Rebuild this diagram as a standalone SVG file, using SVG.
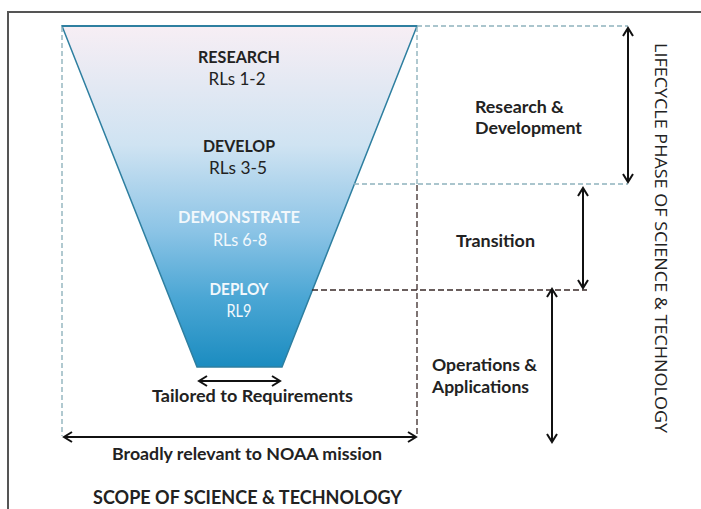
<svg xmlns="http://www.w3.org/2000/svg" width="701" height="509" viewBox="0 0 701 509">
<defs>
<linearGradient id="fun" x1="0" y1="0" x2="0" y2="1">
<stop offset="0" stop-color="#f7eef4"/>
<stop offset="0.35" stop-color="#cfe3f2"/>
<stop offset="0.6" stop-color="#8cc4e6"/>
<stop offset="0.8" stop-color="#4aa6d4"/>
<stop offset="1" stop-color="#1b8cc0"/>
</linearGradient>
<marker id="ah" markerWidth="12" markerHeight="12" refX="10" refY="6" orient="auto-start-reverse" markerUnits="userSpaceOnUse">
<path d="M2,1 L10,6 L2,11" fill="none" stroke="#111" stroke-width="2"/>
</marker>
</defs>
<style>
.t{font-family:Lato,"Liberation Sans",sans-serif;font-size:17px;fill:#222}
.b{font-weight:bold}
.c{text-anchor:middle}
.w{fill:#f2f8fc}
.dl{fill:none;stroke:#8fb3bd;stroke-width:1.4;stroke-dasharray:5,3}
.dd{fill:none;stroke:#3a2a28;stroke-width:1.3;stroke-dasharray:6,3}
.ar{fill:none;stroke:#111;stroke-width:2;marker-start:url(#ah);marker-end:url(#ah)}
</style>
<rect x="0" y="0" width="701" height="509" fill="#fff"/>
<path d="M8,509 L8,12 L701,12" fill="none" stroke="#555" stroke-width="2"/>
<g id="funnel">
<polygon points="62,26 417,26 282,367 197,367" fill="url(#fun)" stroke="#2e7fa0" stroke-width="1.5"/>
<line x1="62" y1="26" x2="417" y2="26" stroke="#2e7fa0" stroke-width="2"/>
</g>
<g id="connectors">
<line class="dl" x1="417" y1="26" x2="628" y2="26"/>
<line class="dl" x1="62" y1="27" x2="62" y2="436"/>
<line class="dl" x1="417" y1="27" x2="417" y2="185"/>
<line class="dd" x1="417" y1="185" x2="417" y2="436"/>
<line class="dl" x1="354" y1="184" x2="628" y2="184"/>
<line class="dd" x1="312" y1="290" x2="587" y2="290"/>
<line class="ar" x1="628" y1="28" x2="628" y2="182"/>
<line class="ar" x1="583" y1="188" x2="583" y2="288"/>
<line class="ar" x1="552" y1="289" x2="552" y2="442"/>
<line class="ar" x1="199" y1="381" x2="280" y2="381"/>
<line class="ar" x1="64" y1="437" x2="416" y2="437"/>
</g>
<g id="research"><text class="t b c" x="239" y="63" textLength="82" lengthAdjust="spacingAndGlyphs">RESEARCH</text><text class="t c" x="237" y="85" textLength="57" lengthAdjust="spacingAndGlyphs">RLs 1-2</text></g>
<g id="develop"><text class="t b c" x="239" y="152" textLength="72" lengthAdjust="spacingAndGlyphs">DEVELOP</text><text class="t c" x="238" y="174" textLength="58" lengthAdjust="spacingAndGlyphs">RLs 3-5</text></g>
<g id="demonstrate"><text class="t b c w" x="239" y="223" textLength="122" lengthAdjust="spacingAndGlyphs">DEMONSTRATE</text><text class="t c w" x="240" y="246" textLength="54" lengthAdjust="spacingAndGlyphs">RLs 6-8</text></g>
<g id="deploy"><text class="t b c w" x="239" y="295" textLength="59" lengthAdjust="spacingAndGlyphs">DEPLOY</text><text class="t c w" x="239" y="317" textLength="25" lengthAdjust="spacingAndGlyphs">RL9</text></g>
<g id="rd"><text class="t b" x="475" y="113" textLength="89" lengthAdjust="spacingAndGlyphs">Research &amp;</text><text class="t b" x="475" y="134" textLength="107" lengthAdjust="spacingAndGlyphs">Development</text></g>
<g id="transition"><text class="t b" x="456" y="247" textLength="79" lengthAdjust="spacingAndGlyphs">Transition</text></g>
<g id="ops"><text class="t b" x="432" y="371" textLength="105" lengthAdjust="spacingAndGlyphs">Operations &amp;</text><text class="t b" x="432" y="393" textLength="97" lengthAdjust="spacingAndGlyphs">Applications</text></g>
<g id="tailored"><text class="t b" x="152" y="402" textLength="201" lengthAdjust="spacingAndGlyphs">Tailored to Requirements</text></g>
<g id="broad"><text class="t b" x="112" y="460" textLength="270" lengthAdjust="spacingAndGlyphs">Broadly relevant to NOAA mission</text></g>
<g id="scope"><text class="t b" x="93" y="504" style="font-size:19px" textLength="309" lengthAdjust="spacingAndGlyphs">SCOPE OF SCIENCE &amp; TECHNOLOGY</text></g>
<g id="lifecycle"><text class="t c" x="655" y="238" transform="rotate(90 655 238)" style="font-size:17px;font-family:'Open Sans',Lato,sans-serif" textLength="390" lengthAdjust="spacingAndGlyphs">LIFECYCLE PHASE OF SCIENCE &amp; TECHNOLOGY</text></g>
</svg>
